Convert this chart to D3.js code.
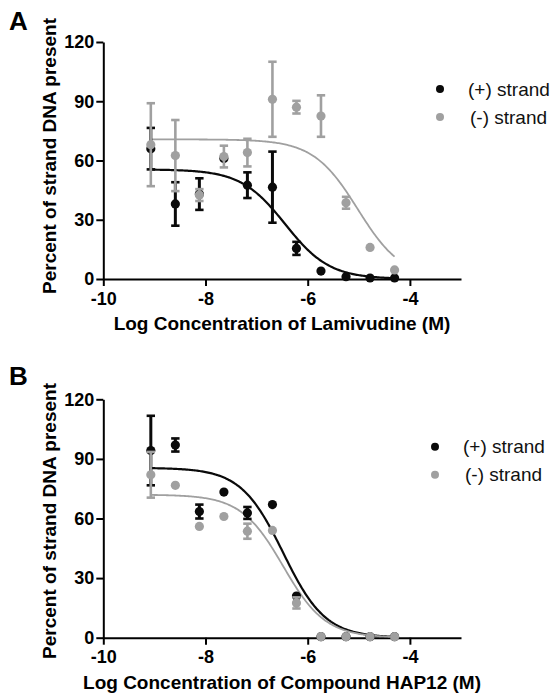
<!DOCTYPE html>
<html>
<head>
<meta charset="utf-8">
<script src="https://cdn.jsdelivr.net/npm/d3@7"></script>
<style>
  body { margin: 0; background: #fff; }
  text { font-family: "Liberation Sans", Arial, sans-serif; }
</style>
</head>
<body>
<div id="d3-container"></div>
<script>

// data
const logConc = [-9.07, -8.59, -8.12, -7.64, -7.18, -6.69, -6.22, -5.74, -5.25, -4.78, -4.30];

const plusA = [66, 38, 43, 61, 47.5, 46.5, 15.5, 4, 1.2, 0.5, 0.5];
const plusErrA = [10.5, 11, 8, 0, 6.5, 18, 3.3, 0, 0, 0, 0];
const minusA = [68, 62.5, 42.5, 62, 64, 91, 87, 82.5, 38.6, 16, 4.6];
const minusErrA = [21, 18, 3, 5.5, 7, 19, 3.2, 10.5, 3, 0, 0];

const plusB = [94.2, 97, 63.5, 73.3, 62.8, 67, 21, 0.5, 0.5, 0.5, 0.5];
const plusErrB = [17.5, 3.3, 3.5, 0, 3, 0, 0, 0, 0, 0, 0];
const minusB = [82, 76.7, 56, 61, 53.6, 54, 17.5, 0.5, 0.5, 0.5, 0.5];
const minusErrB = [11.5, 0, 0, 0, 3.8, 0, 2.8, 0, 0, 0, 0];

// dose-response fits: [top, bottom, logIC50, hill]
const fitPlusA = [55.5, 0, -6.44, 1];
const fitMinusA = [70.7, 0, -5.02, 1];
const fitPlusB = [85.5, 0, -6.48, 1.05];
const fitMinusB = [72, 0, -6.48, 1.05];

const yTicks = [0, 30, 60, 90, 120];
const xTicks = [-10, -8, -6, -4];
const seriesNames = ["(+) strand", "(-) strand"];

const black = "#0a0a0a", gray = "#a0a0a0";

let svg = d3.select('#d3-container')
  .append('svg')
  .attr('width', 554)
  .attr('height', 696)
  .style('background-color', 'white');

function drawPanel(p) {
  const g = svg.append("g");

  const x = d3.scaleLinear().domain([-10, -3]).range([103.3, 461]);
  const y = d3.scaleLinear().domain([0, 120]).range([p.bottom, p.top]);

  // axes
  const xAxis = g.append("g")
    .attr("transform", `translate(0, ${p.bottom})`)
    .call(d3.axisBottom(x).tickValues(xTicks).tickSize(7).tickPadding(6).tickSizeOuter(0).tickFormat(d3.format("d")));
  const yAxis = g.append("g")
    .attr("transform", `translate(${x(-10)}, 0)`)
    .call(d3.axisLeft(y).tickValues(yTicks).tickSize(7).tickPadding(2).tickSizeOuter(0));

  [xAxis, yAxis].forEach(a => {
    a.select(".domain").attr("stroke", "#000").attr("stroke-width", 2);
    a.selectAll(".tick line").attr("stroke", "#000").attr("stroke-width", 2);
    a.selectAll(".tick text")
      .attr("fill", "#000")
      .style("font-size", "18px")
      .style("font-weight", "bold")
      .style("font-family", '"Liberation Sans", Arial, sans-serif');
  });
  xAxis.selectAll(".tick text").text(d => d < 0 ? "-" + Math.abs(d) : d);

  // titles
  g.append("text")
    .attr("x", 282)
    .attr("y", p.bottom + 51)
    .attr("text-anchor", "middle")
    .style("font-size", "19px")
    .style("font-weight", "bold")
    .text(p.xTitle);

  g.append("text")
    .attr("transform", `translate(56, ${p.yTitleMid}) rotate(-90)`)
    .attr("text-anchor", "middle")
    .style("font-size", "19px")
    .style("font-weight", "bold")
    .text("Percent of strand DNA present");

  g.append("text")
    .attr("x", 9)
    .attr("y", p.letterY)
    .style("font-size", "26px")
    .style("font-weight", "bold")
    .text(p.letter);

  // fitted curves
  const logistic = f => v => f[1] + (f[0] - f[1]) / (1 + Math.pow(10, f[3] * (v - f[2])));
  const xs = d3.range(0, 201).map(i => logConc[0] + (logConc[logConc.length - 1] - logConc[0]) * i / 200);
  const line = d3.line().x(d => x(d[0])).y(d => y(d[1]));

  const series = [
    { vals: p.plus, err: p.plusErr, fit: p.fitPlus, color: black, lw: 2.2, bw: 3 },
    { vals: p.minus, err: p.minusErr, fit: p.fitMinus, color: gray, lw: 1.8, bw: 2.6 }
  ];

  series.forEach(s => {
    const fn = logistic(s.fit);
    g.append("path")
      .datum(xs.map(v => [v, fn(v)]))
      .attr("fill", "none")
      .attr("stroke", s.color)
      .attr("stroke-width", s.lw)
      .attr("d", line);
  });

  series.forEach(s => {
    const pts = logConc.map((c, i) => ({ c: c, v: s.vals[i], e: s.err[i] }));
    const withErr = pts.filter(d => d.e > 0);

    g.selectAll(null).data(withErr).join("line")
      .attr("x1", d => x(d.c)).attr("x2", d => x(d.c))
      .attr("y1", d => y(d.v - d.e)).attr("y2", d => y(d.v + d.e))
      .attr("stroke", s.color).attr("stroke-width", s.bw);

    [-1, 1].forEach(sign => {
      g.selectAll(null).data(withErr).join("line")
        .attr("x1", d => x(d.c) - 4.2).attr("x2", d => x(d.c) + 4.2)
        .attr("y1", d => y(d.v + sign * d.e)).attr("y2", d => y(d.v + sign * d.e))
        .attr("stroke", s.color).attr("stroke-width", 2.6);
    });

    g.selectAll(null).data(pts).join("circle")
      .attr("cx", d => x(d.c))
      .attr("cy", d => y(d.v))
      .attr("r", 4.6)
      .attr("fill", s.color);
  });

  // legend
  seriesNames.forEach((name, i) => {
    g.append("circle")
      .attr("cx", p.legX)
      .attr("cy", p.legY + i * 28)
      .attr("r", 4)
      .attr("fill", i === 0 ? black : gray);
    g.append("text")
      .attr("x", p.legX + 28 + i * 2)
      .attr("y", p.legY + i * 28)
      .attr("dy", "0.35em")
      .style("font-size", "19px")
      .attr("fill", "#111")
      .text(name);
  });
}

drawPanel({
  top: 42, bottom: 279, letter: "A", letterY: 30, yTitleMid: 156,
  xTitle: "Log Concentration of Lamivudine (M)",
  plus: plusA, plusErr: plusErrA, minus: minusA, minusErr: minusErrA,
  fitPlus: fitPlusA, fitMinus: fitMinusA,
  legX: 440, legY: 89
});

drawPanel({
  top: 399.3, bottom: 637.7, letter: "B", letterY: 385, yTitleMid: 521,
  xTitle: "Log Concentration of Compound HAP12 (M)",
  plus: plusB, plusErr: plusErrB, minus: minusB, minusErr: minusErrB,
  fitPlus: fitPlusB, fitMinus: fitMinusB,
  legX: 435, legY: 446.7
});

</script>
</body>
</html>
